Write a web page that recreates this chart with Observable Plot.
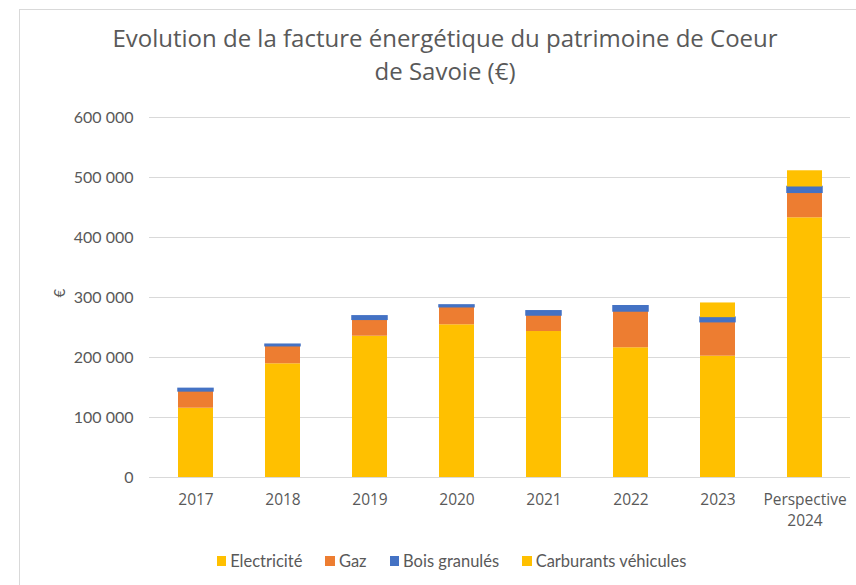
<!DOCTYPE html>
<html>
<head>
<meta charset="utf-8">
<script src="https://cdn.jsdelivr.net/npm/d3@7"></script>
<script src="https://cdn.jsdelivr.net/npm/@observablehq/plot@0.6"></script>
<style>
  html, body { margin: 0; padding: 0; background: #fff; }
  #wrap { position: relative; width: 856px; height: 585px; overflow: hidden; }
  #frame { position: absolute; left: 19px; top: 9px; width: 900px; height: 700px;
           border-left: 1.5px solid #d9d9d9; border-top: 1.5px solid #d9d9d9; }
  #title { position: absolute; left: 0; top: 21px; width: 890px; text-align: center;
           font-family: "Open Sans", sans-serif; font-size: 24px; line-height: 33px; color: #595959; }
  #chart { position: absolute; left: 0; top: 100px; }
  #legend { position: absolute; left: 0; top: 551px; width: 903px; display: flex; justify-content: center;
            font-family: Lato, sans-serif; font-size: 16.5px; color: #595959; }
  .item { display: flex; align-items: center; margin: 0 11.5px; }
  .sw { width: 9.5px; height: 9.5px; margin-right: 4px; }
</style>
</head>
<body>
<div id="wrap">
  <div id="frame"></div>
  <div id="title">Evolution de la facture énergétique du patrimoine de Coeur<br>de Savoie (€)</div>
  <div id="chart"></div>
  <div id="legend"></div>
</div>
<script>
const years = ["2017", "2018", "2019", "2020", "2021", "2022", "2023", "Perspective 2024"];
const series = ["Electricité", "Gaz", "Bois granulés", "Carburants véhicules"];
const colors = ["#FFC000", "#ED7D31", "#4472C4", "#FFC000"];
const electricite = [115500, 189500, 235500, 254500, 243300, 216200, 202200, 432800];
const gaz = [28000, 29300, 27300, 29300, 26700, 60500, 56700, 41700];
const boisGranules = [4200, 2500, 5800, 3000, 7000, 8700, 7500, 9700];
const carburants = [0, 0, 0, 0, 0, 0, 24500, 27000];
const yTicks = [0, 100000, 200000, 300000, 400000, 500000, 600000];

const valuesBySeries = [electricite, gaz, boisGranules, carburants];
const data = [];
years.forEach((y, i) => {
  series.forEach((s, j) => data.push({year: y, series: s, value: valuesBySeries[j][i]}));
});

const fmt = d => d3.format(",")(d).replace(/,/g, " ");

const chart = Plot.plot({
  width: 856,
  height: 445,
  marginTop: 17,
  marginBottom: 68,
  marginLeft: 149,
  marginRight: 6,
  style: {background: "transparent", color: "#595959", fontFamily: "Lato, sans-serif"},
  x: {domain: years, paddingInner: 0.6, paddingOuter: 0.3, label: null},
  y: {domain: [0, 600000], label: null},
  color: {domain: series, range: colors},
  marks: [
    Plot.gridY(yTicks, {stroke: "#d9d9d9", strokeOpacity: 1, strokeWidth: 1.2}),
    Plot.barY(data, {
      x: "year", y: "value", fill: "series", order: series,
      stroke: d => d.series === "Bois granulés" ? "#4472C4" : "none",
      strokeWidth: 1.5
    }),
    Plot.axisY(yTicks, {tickSize: 0, tickPadding: 16, tickFormat: fmt, fontSize: 16, label: null}),
    Plot.axisX({tickSize: 0, tickPadding: 12.5, tickFormat: d => d.replace(" ", "\n"),
      fontSize: 15.5, fontFamily: "Open Sans, sans-serif", lineHeight: 1.35, label: null}),
    Plot.text(["€"], {frameAnchor: "left", dx: -89, rotate: -90, fontSize: 15, fill: "#595959"})
  ]
});
document.getElementById("chart").appendChild(chart);

const legend = document.getElementById("legend");
series.forEach((s, j) => {
  const it = document.createElement("div");
  it.className = "item";
  const sw = document.createElement("div");
  sw.className = "sw";
  sw.style.background = colors[j];
  const t = document.createElement("span");
  t.textContent = s;
  it.appendChild(sw);
  it.appendChild(t);
  legend.appendChild(it);
});
</script>
</body>
</html>
